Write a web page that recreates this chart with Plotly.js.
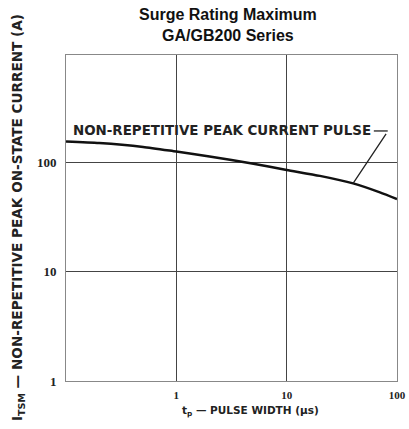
<!DOCTYPE html>
<html><head><meta charset="utf-8">
<script src="https://cdn.plot.ly/plotly-3.0.1.min.js"></script>
<style>html,body{margin:0;padding:0;background:#fff}#chart{width:409px;height:429px}</style>
</head><body><div id="chart"></div>
<script>
const pulseWidth = [0.1, 0.2, 0.5, 1, 2, 5, 10, 20, 40, 70, 100];
const peakCurrent = [155, 150, 138, 125, 113, 97, 85, 75, 64, 53, 46];
const xTickVals = [1, 10, 100];
const xTickText = ['1', '10', '100'];
const yTickVals = [1, 10, 100];
const yTickText = ['1', '10', '100'];

const trace = {
  x: pulseWidth, y: peakCurrent, type: 'scatter', mode: 'lines',
  line: {color: '#111', width: 2.5, shape: 'spline', smoothing: 0.6}, hoverinfo: 'skip'
};
const serif = 'Liberation Serif, DejaVu Serif, serif';
const sans = 'DejaVu Sans, Liberation Sans, Arial, sans-serif';
const layout = {
  width: 409, height: 429,
  margin: {l: 66, r: 12, t: 55, b: 48},
  paper_bgcolor: '#fff', plot_bgcolor: '#fff',
  showlegend: false,
  xaxis: {type: 'log', range: [-1, 2], tickvals: xTickVals, ticktext: xTickText, ticks: '',
    showgrid: true, gridcolor: '#444', gridwidth: 1, zeroline: false,
    showline: true, linecolor: '#888', linewidth: 1, mirror: true,
    tickfont: {family: serif, size: 11, color: '#222', weight: 'bold'}, ticklabelstandoff: 4},
  yaxis: {type: 'log', range: [0, 2.98], tickvals: yTickVals, ticktext: yTickText, ticks: '',
    showgrid: true, gridcolor: '#444', gridwidth: 1, zeroline: false,
    showline: true, linecolor: '#888', linewidth: 1, mirror: true,
    tickfont: {family: serif, size: 13, color: '#222', weight: 'bold'}, ticklabelstandoff: 6},
  annotations: [
    {xref: 'paper', yref: 'paper', x: 0.489, y: 1.0905, xanchor: 'center', yanchor: 'middle', showarrow: false,
      text: '<b>Surge Rating Maximum<br>GA/GB200 Series</b>',
      font: {family: 'Liberation Sans, Arial, sans-serif', size: 16, color: '#111'}},
    {xref: 'paper', yref: 'paper', x: -0.145, y: 0.5, xanchor: 'center', yanchor: 'middle', textangle: -90, showarrow: false,
      text: '<b>I<sub>TSM</sub> — NON-REPETITIVE PEAK ON-STATE CURRENT (A)</b>',
      font: {family: sans, size: 13.6, color: '#222'}},
    {xref: 'paper', yref: 'paper', x: 0.556, y: -0.092, xanchor: 'center', yanchor: 'middle', showarrow: false,
      text: '<b>t<sub>p</sub> — PULSE WIDTH (µs)</b>',
      font: {family: sans, size: 10.5, color: '#222'}},
    {xref: 'paper', yref: 'paper', x: 0.927, y: 0.767, xanchor: 'right', yanchor: 'middle', showarrow: false,
      text: '<b>NON-REPETITIVE PEAK CURRENT PULSE</b>',
      font: {family: sans, size: 13.4, color: '#222'}},
    {x: Math.log10(40), y: Math.log10(64), xref: 'x', yref: 'y', text: '', showarrow: true,
      arrowhead: 0, arrowwidth: 1.3, arrowcolor: '#222', ax: 34, ay: -51, standoff: 0}
  ],
  shapes: [
    {type: 'line', xref: 'paper', yref: 'paper', x0: 0.93, x1: 0.972, y0: 0.767, y1: 0.767,
      line: {color: '#222', width: 1.3}}
  ]
};
Plotly.newPlot('chart', [trace], layout, {displayModeBar: false, staticPlot: true});
</script></body></html>
